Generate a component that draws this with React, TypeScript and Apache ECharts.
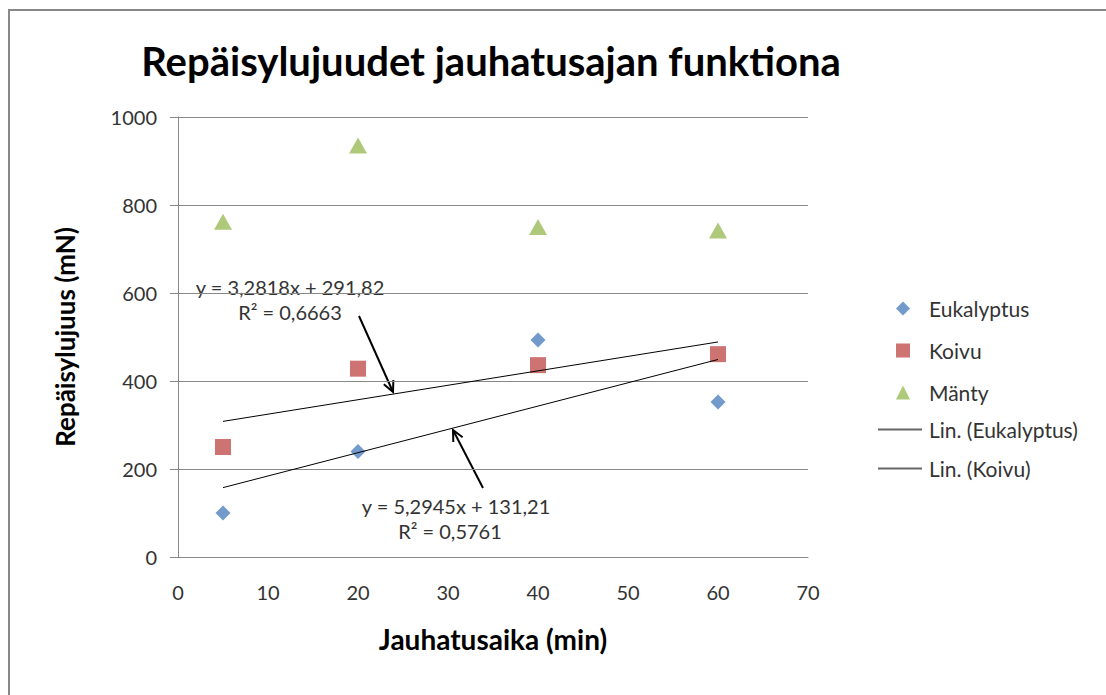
import React, { useEffect, useRef } from "react";
import * as echarts from "echarts";

// Grinding time (min) at which each sample was measured
const grindTimes = [5, 20, 40, 60];

// Tear strength (mN) per pulp type
const eukalyptus = [100, 240, 493, 352];
const koivu = [250, 428, 436, 461];
const manty = [762, 935, 750, 742];

// Linear trendline coefficients [slope, intercept] and R² as stated in the labels
const eukalyptusFit = { slope: 5.2945, intercept: 131.21, r2: "0,5761" };
const koivuFit = { slope: 3.2818, intercept: 291.82, r2: "0,6663" };

const xTicks = { min: 0, max: 70, interval: 10 };
const yTicks = { min: 0, max: 1000, interval: 200 };

const FONT = "Lato, 'Open Sans', sans-serif";
const GRID = { left: 178, top: 117, width: 630, height: 440 };

function fmt(n: number): string {
  return String(n).replace(".", ",");
}

function fitLine(fit: { slope: number; intercept: number }): number[][] {
  const xs = [grindTimes[0], grindTimes[grindTimes.length - 1]];
  return xs.map((x) => [x, fit.slope * x + fit.intercept]);
}

// Straight arrow with an open V head at (x2, y2)
function arrow(x1: number, y1: number, x2: number, y2: number) {
  const ang = Math.atan2(y2 - y1, x2 - x1);
  const len = 12;
  const spread = 0.45;
  const a = [x2 - len * Math.cos(ang - spread), y2 - len * Math.sin(ang - spread)];
  const b = [x2 - len * Math.cos(ang + spread), y2 - len * Math.sin(ang + spread)];
  const style = { stroke: "#000", lineWidth: 2, fill: "none" };
  return [
    { type: "line", shape: { x1, y1, x2, y2 }, style },
    { type: "polyline", shape: { points: [a, [x2, y2], b] }, style },
  ];
}

export default function App() {
  const ref = useRef<HTMLDivElement>(null);

  useEffect(() => {
    if (!ref.current) return;
    const chart = echarts.init(ref.current, null, { renderer: "svg" });

    const eqStyle = {
      fontFamily: FONT,
      fontSize: 20,
      fill: "#333",
      textAlign: "center",
      textVerticalAlign: "middle",
    };
    const legendText = { fontFamily: FONT, fontSize: 21, lineHeight: 20, color: "#333" };

    chart.setOption({
      animation: false,
      backgroundColor: "#fff",
      textStyle: { fontFamily: FONT },
      title: {
        text: "Repäisylujuudet jauhatusajan funktiona",
        left: 486,
        top: 36,
        textAlign: "center",
        textStyle: { fontFamily: FONT, fontSize: 40, fontWeight: "bold", color: "#000" },
      },
      grid: { ...GRID, containLabel: false },
      legend: [
        {
          orient: "vertical",
          left: 891,
          top: 293,
          itemWidth: 14,
          itemHeight: 14,
          itemGap: 21,
          textStyle: { ...legendText, padding: [0, 0, 0, 14] },
          data: [{ name: "Eukalyptus" }, { name: "Koivu" }, { name: "Mänty" }],
        },
        {
          orient: "vertical",
          left: 873,
          top: 414,
          itemWidth: 44,
          itemHeight: 2,
          itemGap: 18,
          icon: "rect",
          itemStyle: { color: "#666" },
          textStyle: { ...legendText, padding: [0, 0, 0, 2] },
          data: [
            { name: "Lin. (Eukalyptus)", itemStyle: { color: "#666" } },
            { name: "Lin. (Koivu)", itemStyle: { color: "#666" } },
          ],
        },
      ],
      xAxis: {
        type: "value",
        ...xTicks,
        name: "Jauhatusaika (min)",
        nameLocation: "middle",
        nameGap: 68,
        nameTextStyle: { fontFamily: FONT, fontSize: 28, fontWeight: "bold", color: "#000" },
        axisLine: { show: true, onZero: false, lineStyle: { color: "#888", width: 1 } },
        axisTick: { show: false },
        axisLabel: { margin: 25, fontFamily: FONT, fontSize: 20, color: "#333" },
        splitLine: { show: false },
      },
      yAxis: {
        type: "value",
        ...yTicks,
        name: "Repäisylujuus (mN)",
        nameLocation: "middle",
        nameGap: 100,
        nameTextStyle: { fontFamily: FONT, fontSize: 26, fontWeight: "bold", color: "#000" },
        axisLine: { show: true, lineStyle: { color: "#888", width: 1 } },
        axisTick: { show: true, inside: false, length: 8, lineStyle: { color: "#888" } },
        axisLabel: {
          margin: 21,
          fontFamily: FONT,
          fontSize: 20,
          color: "#333",
          formatter: (v: number) => String(v),
        },
        splitLine: { show: true, lineStyle: { color: "#888", width: 1 } },
      },
      series: [
        {
          name: "Eukalyptus",
          type: "scatter",
          symbol: "diamond",
          symbolSize: 15,
          itemStyle: { color: "#4F81BD" },
          data: grindTimes.map((x, i) => [x, eukalyptus[i]]),
        },
        {
          name: "Koivu",
          type: "scatter",
          symbol: "rect",
          symbolSize: 16,
          itemStyle: { color: "#C0504D" },
          data: grindTimes.map((x, i) => [x, koivu[i]]),
        },
        {
          name: "Mänty",
          type: "scatter",
          symbol: "triangle",
          symbolSize: [18, 16],
          itemStyle: { color: "#9BBB59" },
          data: grindTimes.map((x, i) => [x, manty[i]]),
        },
        {
          name: "Lin. (Eukalyptus)",
          type: "line",
          symbol: "none",
          lineStyle: { color: "#000", width: 1 },
          itemStyle: { color: "#666" },
          data: fitLine(eukalyptusFit),
        },
        {
          name: "Lin. (Koivu)",
          type: "line",
          symbol: "none",
          lineStyle: { color: "#000", width: 1 },
          itemStyle: { color: "#666" },
          data: fitLine(koivuFit),
        },
      ],
      graphic: [
        {
          type: "rect",
          silent: true,
          shape: { x: 9, y: 10, width: 1200, height: 800 },
          style: { fill: "none", stroke: "#888", lineWidth: 2 },
        },
        {
          type: "text",
          x: 290,
          y: 287,
          style: { ...eqStyle, text: `y = ${fmt(koivuFit.slope)}x + ${fmt(koivuFit.intercept)}` },
        },
        {
          type: "text",
          x: 290,
          y: 312,
          style: { ...eqStyle, text: `R² = ${koivuFit.r2}` },
        },
        {
          type: "text",
          x: 456,
          y: 506,
          style: { ...eqStyle, text: `y = ${fmt(eukalyptusFit.slope)}x + ${fmt(eukalyptusFit.intercept)}` },
        },
        {
          type: "text",
          x: 450,
          y: 531,
          style: { ...eqStyle, text: `R² = ${eukalyptusFit.r2}` },
        },
        ...arrow(359, 316, 393, 392),
        ...arrow(483, 488, 453, 430),
      ],
    });

    return () => chart.dispose();
  }, []);

  return (
    <div
      ref={ref}
      style={{ position: "fixed", left: 0, top: 0, width: 1106, height: 695 }}
    />
  );
}
